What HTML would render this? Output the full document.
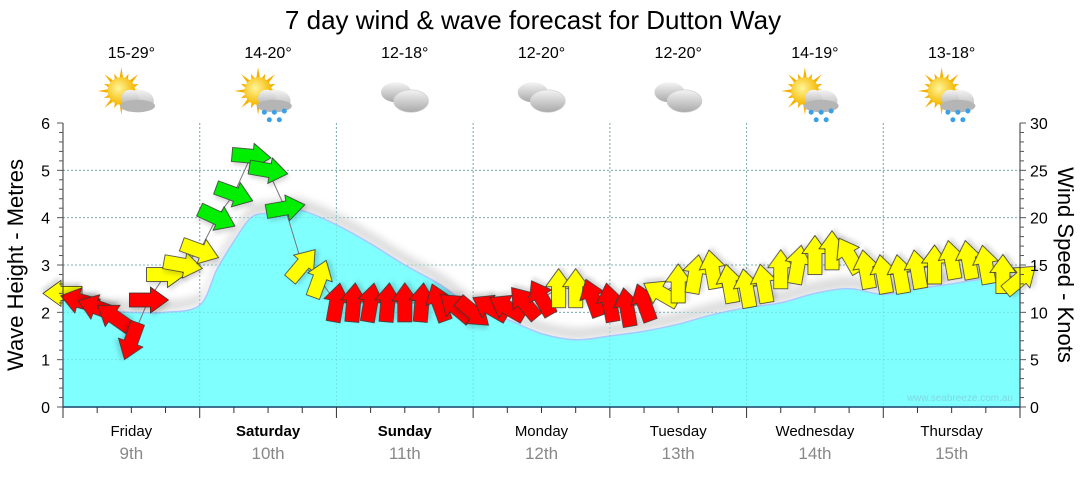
<!DOCTYPE html>
<html><head><meta charset="utf-8">
<style>
body{margin:0;background:#fff;width:1080px;height:475px;overflow:hidden;font-family:"Liberation Sans",sans-serif}
svg text{font-family:"Liberation Sans",sans-serif}
</style></head><body>
<svg id="chart" width="1080" height="475" viewBox="0 0 1080 475">
<defs>
<filter id="blur" x="-10%" y="-50%" width="120%" height="200%"><feGaussianBlur stdDeviation="4"/></filter>
<filter id="ash" x="-30%" y="-30%" width="160%" height="160%"><feDropShadow dx="2" dy="3" stdDeviation="2" flood-color="#000" flood-opacity="0.15"/></filter>
<radialGradient id="sunG" cx="40%" cy="40%" r="60%"><stop offset="0" stop-color="#fff59a"/><stop offset="1" stop-color="#f5b800"/></radialGradient>
<linearGradient id="cloudG" x1="0" y1="0" x2="0" y2="1"><stop offset="0" stop-color="#f4f4f4"/><stop offset="1" stop-color="#a9a9a9"/></linearGradient>
</defs>
<text x="533" y="29" font-size="26" text-anchor="middle" fill="#000">7 day wind &amp; wave forecast for Dutton Way</text>
<g id="grid"></g>
<g id="wave"></g>
<g id="arrows"></g>
<g id="axes"></g>
<g id="icons"></g>
<text x="1013" y="401" font-size="10" fill="#7fd8e0" text-anchor="end">www.seabreeze.com.au</text>
<text transform="translate(23,265) rotate(-90)" font-size="22" text-anchor="middle">Wave Height - Metres</text>
<text transform="translate(1058,265) rotate(90)" font-size="22" text-anchor="middle">Wind Speed - Knots</text>
</svg>
<script>
const days = ["Friday","Saturday","Sunday","Monday","Tuesday","Wednesday","Thursday"];
const dates = ["9th","10th","11th","12th","13th","14th","15th"];
const boldDays = [false,true,true,false,false,false,false];
const temps = ["15-29°","14-20°","12-18°","12-20°","12-20°","14-19°","13-18°"];
const iconTypes = ["sun","sunrain","cloud","cloud","cloud","sunrain","sunrain"];
const waveTicks = [0,1,2,3,4,5,6];
const windTicks = [0,5,10,15,20,25,30];
const waveHours = [0,6,12,18,24,27,30,33,36,39,42,48,54,60,66,72,78,84,90,96,102,108,114,120,126,132,138,144,150,156,162,168];
const waveHeights = [2.3,2.05,2.0,2.0,2.15,2.9,3.5,4.0,4.1,4.15,4.15,3.85,3.45,3.0,2.6,2.1,1.85,1.55,1.42,1.5,1.6,1.75,1.95,2.1,2.2,2.4,2.5,2.38,2.5,2.6,2.7,2.6];
const windHours = [0,3,6,9,12,15,18,21,24,27,30,33,36,39,42,45,48,51,54,57,60,63,66,69,72,75,78,81,84,87,90,93,96,99,102,105,108,111,114,117,120,123,126,129,132,135,138,141,144,147,150,153,156,159,162,165,168];
const windSpeeds = [12.0,11.2,10.5,9.5,7.0,11.3,14.0,15.0,16.5,20.0,22.5,26.5,25.0,21.0,15.0,13.5,11.0,11.0,11.0,11.0,11.0,11.0,11.0,10.5,10.0,10.5,10.5,11.0,11.5,12.5,12.5,11.5,11.0,10.5,11.0,12.0,13.0,14.0,14.5,13.0,12.5,13.0,14.5,15.0,16.0,16.5,16.0,14.5,14.0,14.0,14.5,15.0,15.5,15.5,15.0,14.0,13.5];
const windDirs = [180,195,200,215,110,0,0,10,20,25,20,5,10,-10,-50,-70,-80,-85,-80,-85,-90,-85,-110,-140,40,-150,-150,-130,-120,-90,-90,-110,-100,-100,-110,-150,-90,-80,-100,-100,-100,-100,-90,-80,-90,-90,-120,-100,-100,-100,-100,-90,-100,-100,-100,-90,-40];
const windColors = ["Y","R","R","R","R","R","Y","Y","Y","G","G","G","G","G","Y","Y","R","R","R","R","R","R","R","R","R","R","R","R","R","Y","Y","R","R","R","R","Y","Y","Y","Y","Y","Y","Y","Y","Y","Y","Y","Y","Y","Y","Y","Y","Y","Y","Y","Y","Y","Y"];

(function(){
const NS="http://www.w3.org/2000/svg";
const X0=63,X1=1020,Y0=407,Y1=123;
const xH=h=>X0+(X1-X0)*h/168;
const yW=v=>Y0-(Y0-Y1)*v/6;
const yK=v=>Y0-(Y0-Y1)*v/30;
function mk(tag,attrs,parent){const e=document.createElementNS(NS,tag);for(const k in attrs)e.setAttribute(k,attrs[k]);parent.appendChild(e);return e;}
const grid=document.getElementById('grid'),wave=document.getElementById('wave'),arr=document.getElementById('arrows'),axes=document.getElementById('axes'),icons=document.getElementById('icons');

waveTicks.forEach(t=>{if(t>0&&t<6){const l=mk('line',{x1:X0,x2:X1,y1:yW(t),y2:yW(t),stroke:'#999','stroke-dasharray':'2,2','stroke-width':1},grid);

}});
for(let d=1;d<7;d++){const l=mk('line',{x1:xH(d*24),x2:xH(d*24),y1:Y1,y2:Y0,stroke:'#999','stroke-dasharray':'2,2'},grid);

}

function smoothPath(pts){let d='M'+pts[0][0]+','+pts[0][1];for(let i=0;i<pts.length-1;i++){const p0=pts[i-1]||pts[i],p1=pts[i],p2=pts[i+1],p3=pts[i+2]||p2;
d+=' C'+(p1[0]+(p2[0]-p0[0])/6)+','+(p1[1]+(p2[1]-p0[1])/6)+' '+(p2[0]-(p3[0]-p1[0])/6)+','+(p2[1]-(p3[1]-p1[1])/6)+' '+p2[0]+','+p2[1];}return d;}
const wpts=waveHours.map((h,i)=>[xH(h),yW(waveHeights[i])]);
const waveTop=smoothPath(wpts);
const shpts=waveHours.map((h,i)=>[xH(h),yW(waveHeights[i])-12]);
const shadow=mk('path',{d:smoothPath(shpts)+' L'+X1+','+yW(waveHeights[waveHeights.length-1])+' '+[...wpts].reverse().map(p=>'L'+p[0]+','+p[1]).join(' ')+' Z',fill:'#dcdcdc',filter:'url(#blur)'},wave);


const area=mk('path',{d:waveTop+' L'+X1+','+Y0+' L'+X0+','+Y0+' Z',fill:'#80ffff',stroke:'#a8c8ff','stroke-width':1.5},wave);


waveTicks.forEach(t=>{if(t>0&&t<6){mk('line',{x1:X0,x2:X1,y1:yW(t),y2:yW(t),stroke:'#66cccc','stroke-dasharray':'2,2','stroke-width':1,opacity:0.5},wave);}});
for(let d=1;d<7;d++){mk('line',{x1:xH(d*24),x2:xH(d*24),y1:Y1,y2:Y0,stroke:'#66cccc','stroke-dasharray':'2,2',opacity:0.5},wave);}

const cl=mk('polyline',{points:windHours.map((h,i)=>xH(h)+','+yK(windSpeeds[i])).join(' '),fill:'none',stroke:'#777','stroke-width':1},arr);


const colMap={R:'#ff0000',Y:'#ffff00',G:'#00ee00'};
windHours.forEach((h,i)=>{
 const cx=xH(h),cy=yK(windSpeeds[i]);
 const p=mk('polygon',{points:'-19,-7 2,-7 2,-13 20,0 2,13 2,7 -19,7',fill:colMap[windColors[i]],stroke:'#333','stroke-width':0.8,
  transform:'translate('+cx+','+cy+') rotate('+windDirs[i]+')',filter:'url(#ash)'},arr);
 
 
});

const axL=mk('line',{x1:X0,x2:X0,y1:Y1,y2:Y0,stroke:'#333'},axes);


const axR=mk('line',{x1:X1,x2:X1,y1:Y1,y2:Y0,stroke:'#333'},axes);


const axB=mk('line',{x1:X0,x2:X1,y1:Y0,y2:Y0,stroke:'#1a4a6a','stroke-width':1.5},axes);


for(let k=0;k<=30;k++){const v=k*0.2;const y=yW(v);mk('line',{x1:X0-(k%5===0?6:4),x2:X0,y1:y,y2:y,stroke:'#555'},axes);}
for(let v=0;v<=30;v+=1){const y=yK(v);mk('line',{x1:X1,x2:X1+(v%5===0?6:4),y1:y,y2:y,stroke:'#555'},axes);}
waveTicks.forEach(t=>{const e=mk('text',{x:50,y:yW(t)+6,'font-size':16,'text-anchor':'end'},axes);e.textContent=t;

});
windTicks.forEach(t=>{const e=mk('text',{x:1030,y:yK(t)+6,'font-size':16},axes);e.textContent=t;

});
for(let h=0;h<=168;h+=6){const x=xH(h);mk('line',{x1:x,x2:x,y1:Y0,y2:Y0+(h%24===0?11:6),stroke:'#333'},axes);}
days.forEach((d,i)=>{const cx=xH(i*24+12);
 const t=mk('text',{x:cx,y:436,'font-size':15,'text-anchor':'middle','font-weight':boldDays[i]?'bold':'normal'},axes);t.textContent=d;
 
 
 const t2=mk('text',{x:cx,y:459,'font-size':17,'text-anchor':'middle',fill:'#888'},axes);t2.textContent=dates[i];
 
 
 const t3=mk('text',{x:cx,y:58,'font-size':16,'text-anchor':'middle'},icons);t3.textContent=temps[i];
 
 
 const g=mk('g',{transform:'translate('+cx+',96) scale(1.25)'},icons);
 
 
 if(iconTypes[i]!=='cloud'){
  for(let a=0;a<360;a+=22.5){const r=a*Math.PI/180;const L=(a/22.5)%2?15:19;
   mk('polygon',{points:(-8+Math.cos(r)*L)+','+(-4+Math.sin(r)*L)+' '+(-8+Math.cos(r+0.15)*10)+','+(-4+Math.sin(r+0.15)*10)+' '+(-8+Math.cos(r-0.15)*10)+','+(-4+Math.sin(r-0.15)*10),fill:'#f5b000'},g);}
  mk('circle',{cx:-8,cy:-4,r:11,fill:'url(#sunG)'},g);
  mk('ellipse',{cx:6,cy:4,rx:12,ry:9,fill:'url(#cloudG)'},g);
  mk('circle',{cx:-1,cy:2,r:7,fill:'url(#cloudG)'},g);
  mk('ellipse',{cx:5,cy:8,rx:14,ry:5,fill:'#b5b5b5'},g);
  if(iconTypes[i]==='sunrain'){[[-3,13],[5,13],[13,12],[1,19],[9,19]].forEach(p=>mk('circle',{cx:p[0],cy:p[1],r:2,fill:'#3aa0e8'},g));}
 } else {
  mk('ellipse',{cx:-7,cy:-3,rx:12,ry:8,fill:'url(#cloudG)'},g);
  mk('ellipse',{cx:5,cy:4,rx:14,ry:9,fill:'url(#cloudG)',stroke:'#ccc','stroke-width':0.5},g);
 }
});
})();
</script>
</body></html>
